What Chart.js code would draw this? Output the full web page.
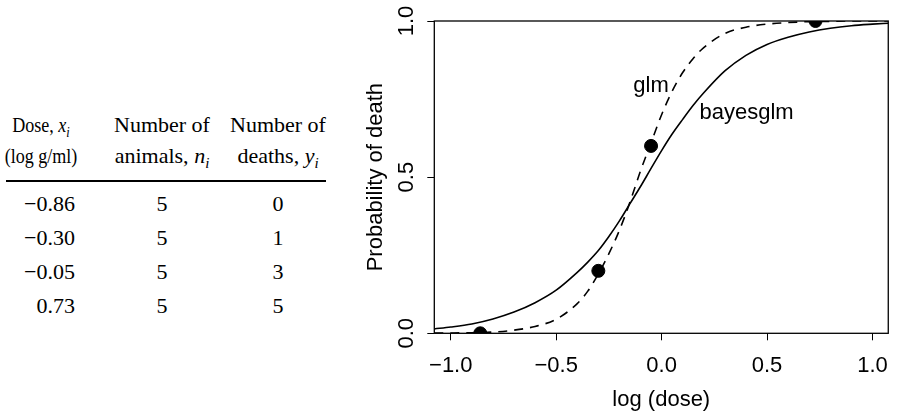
<!DOCTYPE html>
<html>
<head>
<meta charset="utf-8">
<script src="https://cdn.jsdelivr.net/npm/chart.js@4.4.1/dist/chart.umd.min.js"></script>
<style>
  html, body { margin: 0; padding: 0; background: #fff; }
  #page { position: relative; width: 900px; height: 418px; overflow: hidden; }
  #table { position: absolute; left: 0; top: 0; width: 340px; height: 418px;
    font-family: "Liberation Serif", "Times New Roman", serif; font-size: 22px; color: #000; }
  .cell { position: absolute; line-height: 22px; white-space: nowrap; }
  .cell sub { font-size: 15px; vertical-align: baseline; position: relative; top: 5px; line-height: 0; }
  .narrow { transform: scaleX(0.82); }
  #rule { position: absolute; left: 6px; width: 320px; top: 180px; height: 2px; background: #000; }
  #chartBox { position: absolute; left: 340px; top: 0; width: 560px; height: 418px; }
</style>
</head>
<body>
<div id="page">
  <div id="table"><div id="rule"></div></div>
  <div id="chartBox"><canvas id="doseChart" width="560" height="418"></canvas></div>
</div>
<script>
// bioassay data (table + dots)
const doseX = [-0.86, -0.30, -0.05, 0.73];
const nAnimals = [5, 5, 5, 5];
const nDeaths = [0, 1, 3, 5];

// fitted curves
const curveX   = [-1.078, -1.0, -0.9, -0.8, -0.7, -0.6, -0.5, -0.4, -0.35, -0.3, -0.25, -0.2, -0.15, -0.1, -0.05,
                  0.0, 0.05, 0.1, 0.15, 0.2, 0.3, 0.4, 0.5, 0.6, 0.7, 0.8, 0.9, 1.0, 1.075];
const glmFit   = [0.0005, 0.001, 0.002, 0.004, 0.01, 0.022, 0.045, 0.095, 0.135, 0.19, 0.255, 0.33, 0.42, 0.52, 0.61,
                  0.70, 0.775, 0.835, 0.88, 0.915, 0.96, 0.98, 0.99, 0.995, 0.998, 0.999, 1.0, 1.0, 1.0];
const bayesFit = [0.014, 0.02, 0.03, 0.046, 0.068, 0.098, 0.138, 0.195, 0.228, 0.265, 0.31, 0.36, 0.415, 0.47, 0.528,
                  0.585, 0.638, 0.685, 0.73, 0.77, 0.84, 0.89, 0.925, 0.948, 0.965, 0.977, 0.985, 0.99, 0.993];

const xTicks = [-1.0, -0.5, 0.0, 0.5, 1.0];
const yTicks = [0.0, 0.5, 1.0];
const curveLabels = ['glm', 'bayesglm'];
const curveLabelAt = [[-0.05, 0.774], [0.403, 0.685]];

const headerLines = [
  ['Dose, <i>x</i><sub><i>i</i></sub>', 'Number of', 'Number of'],
  ['(log g/ml)', 'animals, <i>n</i><sub><i>i</i></sub>', 'deaths, <i>y</i><sub><i>i</i></sub>']
];

function minus(v, digits) {
  return (v < 0 ? '\u2212' : '') + Math.abs(v).toFixed(digits);
}

// ---- table ----
const table = document.getElementById('table');
const colCenter = [41, 162, 278];

function addCell(html, left, width, align, baseline, cls) {
  const d = document.createElement('div');
  d.className = 'cell' + (cls ? ' ' + cls : '');
  d.style.left = left + 'px';
  d.style.width = width + 'px';
  d.style.textAlign = align;
  d.style.top = (baseline - 18.4) + 'px';
  d.innerHTML = html;
  table.appendChild(d);
}

headerLines.forEach((row, r) => {
  const base = r === 0 ? 132.7 : 163.3;
  row.forEach((txt, c) => addCell(txt, colCenter[c] - 80, 160, 'center', base, c === 0 ? 'narrow' : ''));
});

doseX.forEach((x, i) => {
  const base = 211.7 + 33.9 * i;
  addCell(minus(x, 2), -25, 100, 'right', base);
  addCell(String(nAnimals[i]), colCenter[1] - 40, 80, 'center', base);
  addCell(String(nDeaths[i]), colCenter[2] - 40, 80, 'center', base);
});

// ---- chart ----
Chart.defaults.font.family = '"Liberation Sans", Arial, Helvetica, sans-serif';
Chart.defaults.font.size = 22;
Chart.defaults.color = '#000';

const boxAndLabels = {
  id: 'boxAndLabels',
  afterDatasetsDraw(chart) {
    const { ctx, chartArea: a, scales: { x, y } } = chart;
    ctx.save();
    ctx.strokeStyle = '#000';
    ctx.lineWidth = 1.3;
    ctx.strokeRect(a.left, a.top, a.right - a.left, a.bottom - a.top);
    ctx.font = '22px "Liberation Sans", Arial, sans-serif';
    ctx.fillStyle = '#000';
    ctx.textAlign = 'center';
    ctx.textBaseline = 'alphabetic';
    curveLabels.forEach((t, i) => {
      ctx.fillText(t, x.getPixelForValue(curveLabelAt[i][0]), y.getPixelForValue(curveLabelAt[i][1]));
    });
    ctx.restore();
  }
};

const tickGrid = { drawOnChartArea: false, drawTicks: true, tickLength: 7, color: '#000', lineWidth: 1 };

new Chart(document.getElementById('doseChart'), {
  type: 'scatter',
  data: {
    datasets: [
      {
        label: 'observed',
        data: doseX.map((x, i) => ({ x: x, y: nDeaths[i] / nAnimals[i] })),
        backgroundColor: '#000',
        borderColor: '#000',
        pointRadius: 6.5,
        pointHoverRadius: 6.5,
        clip: 0
      },
      {
        label: 'glm',
        data: curveX.map((x, i) => ({ x: x, y: glmFit[i] })),
        showLine: true,
        borderColor: '#000',
        borderWidth: 1.6,
        borderDash: [9, 7],
        pointRadius: 0,
        cubicInterpolationMode: 'monotone'
      },
      {
        label: 'bayesglm',
        data: curveX.map((x, i) => ({ x: x, y: bayesFit[i] })),
        showLine: true,
        borderColor: '#000',
        borderWidth: 1.6,
        pointRadius: 0,
        cubicInterpolationMode: 'monotone'
      }
    ]
  },
  options: {
    responsive: false,
    animation: false,
    layout: { padding: { left: 0, right: 4.7, top: 21, bottom: 0 } },
    plugins: { legend: { display: false }, tooltip: { enabled: false } },
    scales: {
      x: {
        type: 'linear',
        min: -1.078,
        max: 1.075,
        afterBuildTicks: s => { s.ticks = xTicks.map(v => ({ value: v })); },
        afterFit: s => { s.height = 84.7; },
        grid: tickGrid,
        border: { display: false },
        ticks: { padding: 12, maxRotation: 0, autoSkip: false, callback: v => minus(v, 1) },
        title: { display: true, text: 'log (dose)', padding: { top: 0, bottom: 4.6 } }
      },
      y: {
        type: 'linear',
        min: 0,
        max: 1,
        afterBuildTicks: s => { s.ticks = yTicks.map(v => ({ value: v })); },
        afterFit: s => { s.width = 94.3; },
        grid: tickGrid,
        border: { display: false },
        ticks: { padding: 5, minRotation: 90, maxRotation: 90, crossAlign: 'center', autoSkip: false,
                 callback: v => v.toFixed(1) },
        title: { display: true, text: 'Probability of death', padding: { top: 22.3, bottom: 0 } }
      }
    }
  },
  plugins: [boxAndLabels]
});
</script>
</body>
</html>
